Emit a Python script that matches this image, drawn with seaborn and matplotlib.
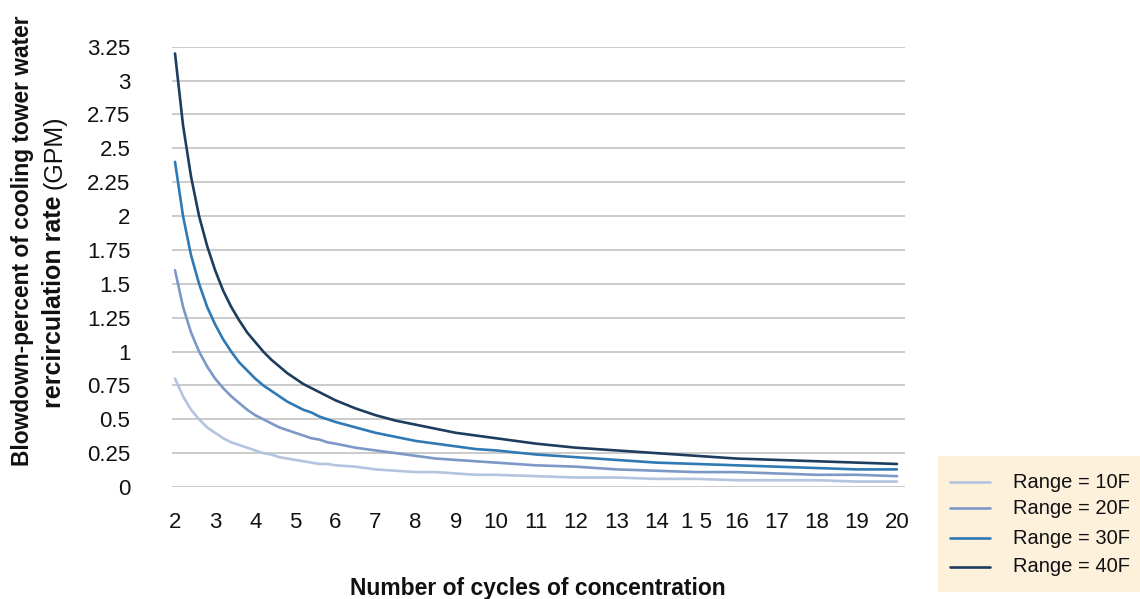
import matplotlib
matplotlib.use("Agg")
import matplotlib.pyplot as plt
import seaborn as sns
import pandas as pd
from matplotlib.patches import Rectangle

# Cycles of concentration (finer steps where the curves fall steeply)
cycles = [2.0, 2.2, 2.4, 2.6, 2.8, 3.0, 3.2, 3.4, 3.6, 3.8,
          4.0, 4.2, 4.4, 4.6, 4.8, 5.0, 5.2, 5.4, 5.6, 5.8,
          6.0, 6.5, 7.0, 7.5, 8.0, 8.5, 9.0, 9.5, 10.0,
          11, 12, 13, 14, 15, 16, 17, 18, 19, 20]

# Blowdown (% of recirculation rate) for each cooling range
range_10f = [0.80, 0.67, 0.57, 0.50, 0.44, 0.40, 0.36, 0.33, 0.31, 0.29,
             0.27, 0.25, 0.24, 0.22, 0.21, 0.20, 0.19, 0.18, 0.17, 0.17,
             0.16, 0.15, 0.13, 0.12, 0.11, 0.11, 0.10, 0.09, 0.09,
             0.08, 0.07, 0.07, 0.06, 0.06, 0.05, 0.05, 0.05, 0.04, 0.04]
range_20f = [1.60, 1.33, 1.14, 1.00, 0.89, 0.80, 0.73, 0.67, 0.62, 0.57,
             0.53, 0.50, 0.47, 0.44, 0.42, 0.40, 0.38, 0.36, 0.35, 0.33,
             0.32, 0.29, 0.27, 0.25, 0.23, 0.21, 0.20, 0.19, 0.18,
             0.16, 0.15, 0.13, 0.12, 0.11, 0.11, 0.10, 0.09, 0.09, 0.08]
range_30f = [2.40, 2.00, 1.71, 1.50, 1.33, 1.20, 1.09, 1.00, 0.92, 0.86,
             0.80, 0.75, 0.71, 0.67, 0.63, 0.60, 0.57, 0.55, 0.52, 0.50,
             0.48, 0.44, 0.40, 0.37, 0.34, 0.32, 0.30, 0.28, 0.27,
             0.24, 0.22, 0.20, 0.18, 0.17, 0.16, 0.15, 0.14, 0.13, 0.13]
range_40f = [3.20, 2.67, 2.29, 2.00, 1.78, 1.60, 1.45, 1.33, 1.23, 1.14,
             1.07, 1.00, 0.94, 0.89, 0.84, 0.80, 0.76, 0.73, 0.70, 0.67,
             0.64, 0.58, 0.53, 0.49, 0.46, 0.43, 0.40, 0.38, 0.36,
             0.32, 0.29, 0.27, 0.25, 0.23, 0.21, 0.20, 0.19, 0.18, 0.17]

series_names = ["Range = 10F", "Range = 20F", "Range = 30F", "Range = 40F"]
series_values = [range_10f, range_20f, range_30f, range_40f]
series_colors = ["#b3c3e0", "#7b98c6", "#2f79b5", "#1d3d5e"]

x_ticks = list(range(2, 21))
x_tick_labels = ["2", "3", "4", "5", "6", "7", "8", "9", "10", "11", "12",
                 "13", "14", "1 5", "16", "17", "18", "19", "20"]
y_ticks = [0, 0.25, 0.5, 0.75, 1, 1.25, 1.5, 1.75, 2, 2.25, 2.5, 2.75, 3, 3.25]
y_tick_labels = ["0", "0.25", "0.5", "0.75", "1", "1.25", "1.5", "1.75",
                 "2", "2.25", "2.5", "2.75", "3", "3.25"]

df = pd.DataFrame({
    "cycles": cycles * len(series_names),
    "blowdown": [v for vals in series_values for v in vals],
    "series": [n for n in series_names for _ in cycles],
})

sns.set_theme(style="white")
plt.rcParams["font.family"] = ["Liberation Sans", "DejaVu Sans"]

W, H = 1140, 599
fig = plt.figure(figsize=(W / 100, H / 100), dpi=100)
ax = fig.add_axes([172 / W, 1 - 487 / H, (905 - 172) / W, (487 - 46.7) / H])

ax.set_ylim(0, 3.25)
ax.set_xlim(1.925, 20.2)
ax.set_yticks(y_ticks)
ax.set_yticklabels(y_tick_labels)
for y in y_ticks:
    ax.axhline(y, color="#bdbdbd", lw=1.1, zorder=0)

sns.lineplot(data=df, x="cycles", y="blowdown", hue="series",
             palette=dict(zip(series_names, series_colors)),
             hue_order=series_names, linewidth=1.9, ax=ax, legend=False,
             zorder=3)

ax.set_xticks(x_ticks)
ax.set_xticklabels(x_tick_labels)
ax.tick_params(axis="x", length=0, pad=18, labelsize=16, labelcolor="#111111")
ax.tick_params(axis="y", length=0, pad=30, labelsize=16, labelcolor="#111111")
for lab in ax.get_yticklabels():
    lab.set_horizontalalignment("right")
for s in ax.spines.values():
    s.set_visible(False)
ax.grid(False)
ax.set_xlabel("")
ax.set_ylabel("")

# Axis titles
fig.text(538 / W, 1 - 589 / H, "Number of cycles of concentration",
         ha="center", va="center", fontsize=16.5, fontweight="bold",
         color="#111111")
fig.text(23 / W, 1 - 241 / H, "Blowdown-percent of cooling tower water",
         rotation=90, ha="center", va="center", fontsize=16.4,
         fontweight="bold", color="#111111")

# Second line: bold words followed by a regular-weight unit
fig.canvas.draw()
renderer = fig.canvas.get_renderer()
part_a = fig.text(0, 0, "rercirculation rate ", rotation=90,
                  rotation_mode="anchor", ha="left", va="center",
                  fontsize=18, fontweight="bold", color="#111111")
part_b = fig.text(0, 0, "(GPM)", rotation=90, rotation_mode="anchor",
                  ha="left", va="center", fontsize=18, color="#111111")
len_a = part_a.get_window_extent(renderer).height
len_b = part_b.get_window_extent(renderer).height
total = len_a + len_b
y_start = 262 + total / 2  # pixel from top
x_line2 = 54
part_a.set_position((x_line2 / W, 1 - y_start / H))
part_b.set_position((x_line2 / W, 1 - (y_start - len_a) / H))

# Legend panel
fig.patches.append(Rectangle((938 / W, 1 - 592 / H), (W - 938) / W,
                             (592 - 456) / H, transform=fig.transFigure,
                             facecolor="#fdf1dc", edgecolor="none",
                             zorder=0))
rows_y = [482, 508, 538, 567]
for name, color, ry in zip(series_names, series_colors, rows_y):
    fig.add_artist(plt.Line2D([950 / W, 990 / W], [1 - ry / H, 1 - ry / H],
                              transform=fig.transFigure, color=color,
                              lw=1.9))
    fig.text(1013 / W, 1 - ry / H, name, ha="left", va="center",
             fontsize=14.5, color="#111111")

fig.savefig("out.png", dpi=100)
